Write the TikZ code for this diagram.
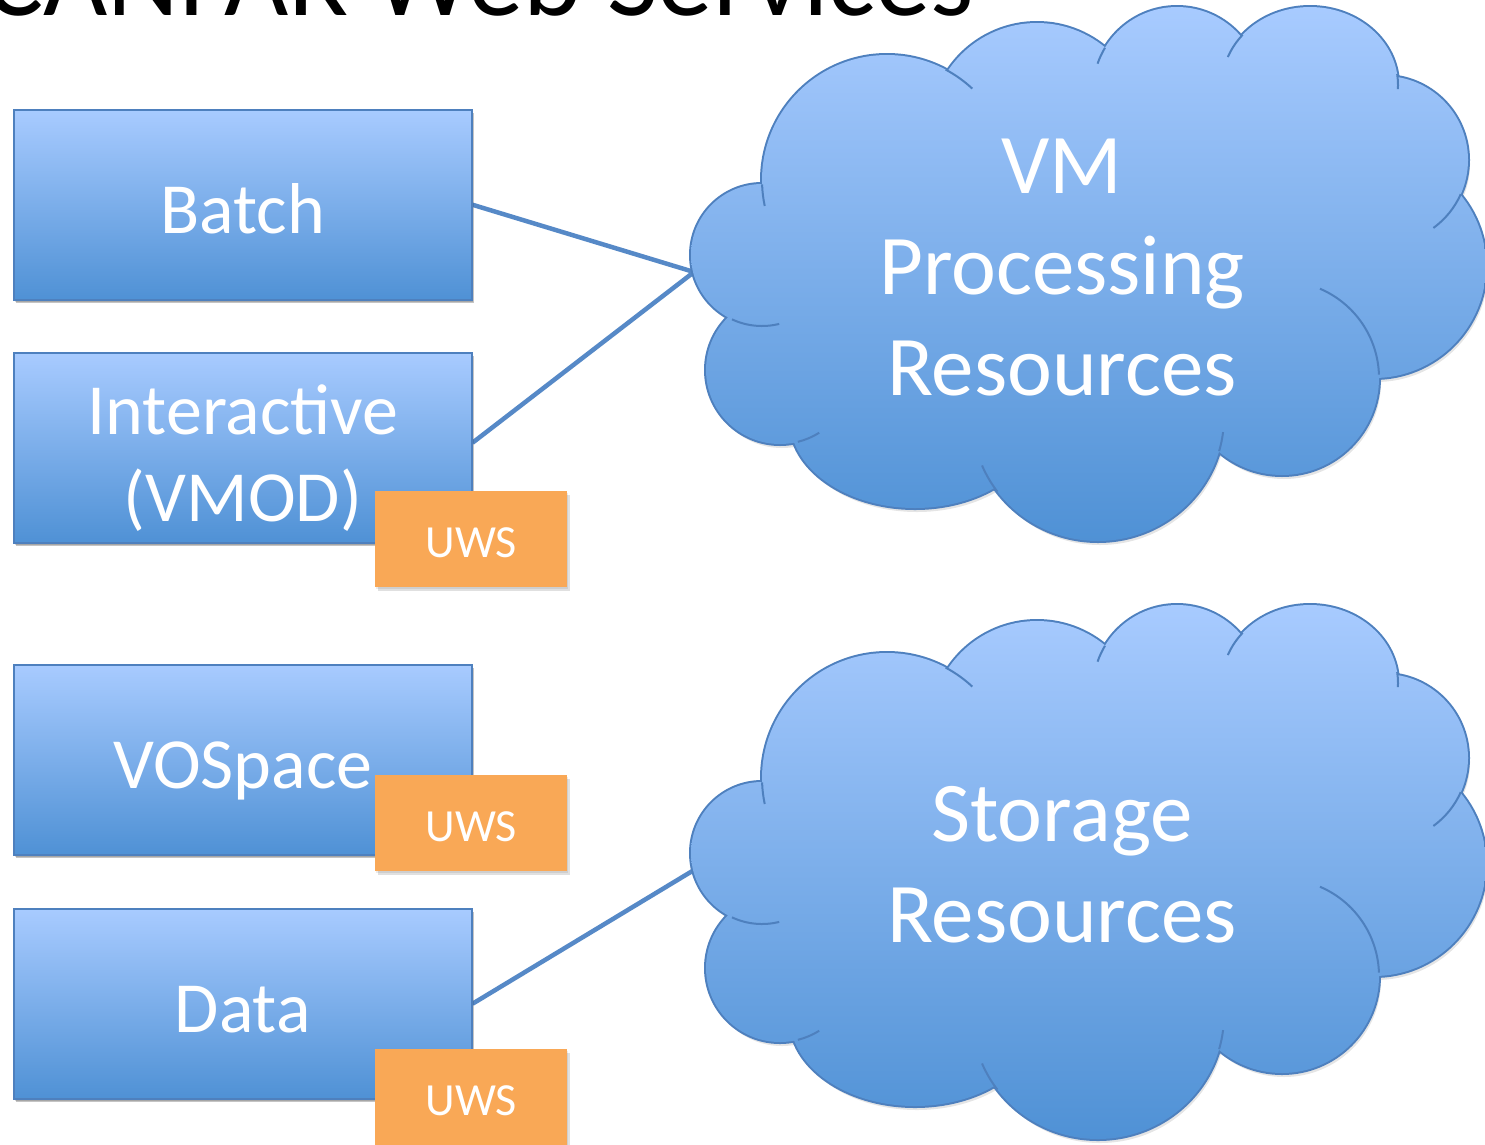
\documentclass[tikz,border=0pt]{standalone}
\usepackage{fontspec}
\setmainfont{Carlito}
\usetikzlibrary{calc}

\definecolor{skytop}{RGB}{168,203,255}
\definecolor{skybot}{RGB}{79,145,213}
\definecolor{rimblue}{RGB}{78,128,190}
\definecolor{wireblue}{RGB}{86,137,199}
\definecolor{uwsfill}{RGB}{249,168,86}

% the eleven lobes of a cloud, and an ellipse filling its middle
\newcommand\lobepath{%
  (762,255) ellipse [x radius=71, y radius=71]
  (887,180) ellipse [x radius=125, y radius=125]
  (1037,130) ellipse [x radius=107, y radius=107]
  (1177,91) ellipse [x radius=84, y radius=84]
  (1310,85) ellipse [x radius=88, y radius=78]
  (1384,160) ellipse [x radius=84, y radius=84]
  (1374,266) ellipse [x radius=112, y radius=112]
  (1282,378) ellipse [x radius=97, y radius=97]
  (1098,417) ellipse [x radius=126, y radius=124]
  (915,420) ellipse [x radius=125, y radius=88]
  (780,370) ellipse [x radius=74, y radius=74]}
\newcommand\corepath{(1090,280) ellipse [x radius=300, y radius=170]}

% shadow, rim, shaded body and inner creases of one cloud
\newcommand\cloudbody{%
  \fill[black, opacity=.10, transform canvas={shift={(2pt,-4pt)}}] \lobepath \corepath;
  \draw[rimblue, line width=4pt] \lobepath;
  \begin{scope}
    \clip \lobepath \corepath;
    \shade[top color=skytop, bottom color=skybot] (680,5) rectangle (1490,542);
  \end{scope}
  \begin{scope}[rimblue, line width=2pt]
    \draw (887,180) ++(168:125) arc[start angle=168, end angle=178, radius=125];
    \draw (887,180) ++(298:125) arc[start angle=298, end angle=313, radius=125];
    \draw (1177,91) ++(199:84) arc[start angle=199, end angle=211, radius=84];
    \draw (1310,85) ++(201:88 and 78) arc[start angle=201, end angle=220, x radius=88, y radius=78];
    \draw (1310,85) ++(352:88 and 78) arc[start angle=352, end angle=363, x radius=88, y radius=78];
    \draw (1384,160) ++(24:84) arc[start angle=24, end angle=54, radius=84];
    \draw (1282,378) ++(293:97) arc[start angle=293, end angle=358, radius=97];
    \draw (1098,417) ++(7:126 and 124) arc[start angle=7, end angle=16, x radius=126, y radius=124];
    \draw (1098,417) ++(143:126 and 124) arc[start angle=143, end angle=157, x radius=126, y radius=124];
    \draw (780,370) ++(58:74) arc[start angle=58, end angle=76, radius=74];
    \draw (762,255) ++(76:71) arc[start angle=76, end angle=115, radius=71];
  \end{scope}
}

\tikzset{
  softshadow/.style={preaction={fill=black, opacity=.08, transform canvas={shift={(1pt,-2pt)}}},
                     preaction={fill=black, opacity=.12, transform canvas={shift={(2.5pt,-3.5pt)}}}},
  svcbox/.style={rectangle, draw=rimblue, line width=1.5pt, top color=skytop, bottom color=skybot,
                 minimum width=458pt, minimum height=190pt, inner sep=0pt, anchor=north west, softshadow},
  uwsbox/.style={rectangle, fill=uwsfill, minimum width=192pt, minimum height=96pt,
                 inner sep=0pt, anchor=north west, softshadow},
  svctext/.style={text=white, font=\fontsize{72}{86.4}\selectfont, align=center, inner sep=0pt},
  cloudtext/.style={text=white, font=\fontsize{85}{101}\selectfont, align=center, inner sep=0pt},
  uwstext/.style={text=white, font=\fontsize{46}{55}\selectfont, inner sep=0pt},
  titletext/.style={text=black, font=\fontsize{111}{133}\selectfont, inner sep=0pt},
  wire/.style={draw=wireblue, line width=4.5pt}
}

\begin{document}
\begin{tikzpicture}[x=1pt, y=-1pt]
  \useasboundingbox (0,0) rectangle (1485,1144);
  \clip (0,0) rectangle (1485,1144);
  \fill[white] (0,0) rectangle (1485,1144);

  \node[titletext, anchor=base west] (title) at (-16,15) {CANFAR Web Services};

  % service boxes
  \node[svcbox] (batch) at (13,109) {};
  \node[svcbox] (inter) at (13,352) {};
  \node[svcbox] (vospace) at (13,664) {};
  \node[svcbox] (data) at (13,908) {};

  % attachment points on the clouds
  \coordinate (vmport) at (694,272);
  \coordinate (stport) at (694,870);

  % connectors
  \draw[wire] (batch.east) -- (vmport);
  \draw[wire] ($(inter.east)+(0,-5)$) -- (vmport);
  \draw[wire] (data.east) -- (stport);

  % clouds
  \begin{scope}
    \cloudbody
  \end{scope}
  \begin{scope}[shift={(0,598)}]
    \cloudbody
  \end{scope}
  % for multi-line nodes the base anchor sits on the last line
  \node[cloudtext, anchor=base] (vmtext) at (1062,395) {VM\\Processing\\Resources};
  \node[cloudtext, anchor=base] (sttext) at (1062,942) {Storage\\Resources};

  % redraw boxes above connector ends
  \node[svcbox] at (13,109) {};
  \node[svcbox] at (13,352) {};
  \node[svcbox] at (13,664) {};
  \node[svcbox] at (13,908) {};

  % box labels
  \node[svctext, anchor=base] (batchtxt) at ($(batch.center)+(0,29)$) {Batch};
  \node[svctext, anchor=base] (intertxt) at (243,521) {Interactive\\(VMOD)};
  \node[svctext, anchor=base] (vostxt) at ($(vospace.center)+(0,29)$) {VOSpace};
  \node[svctext, anchor=base] (datatxt) at ($(data.center)+(0,29)$) {Data};

  % UWS tags
  \node[uwsbox] (uws1) at (375,491) {};
  \node[uwsbox] (uws2) at (375,775) {};
  \node[uwsbox] (uws3) at (375,1049) {};
  \node[uwstext, anchor=base] at ($(uws1.center)+(0,18)$) {UWS};
  \node[uwstext, anchor=base] at ($(uws2.center)+(0,18)$) {UWS};
  \node[uwstext, anchor=base] at ($(uws3.center)+(0,18)$) {UWS};
\end{tikzpicture}
\end{document}
